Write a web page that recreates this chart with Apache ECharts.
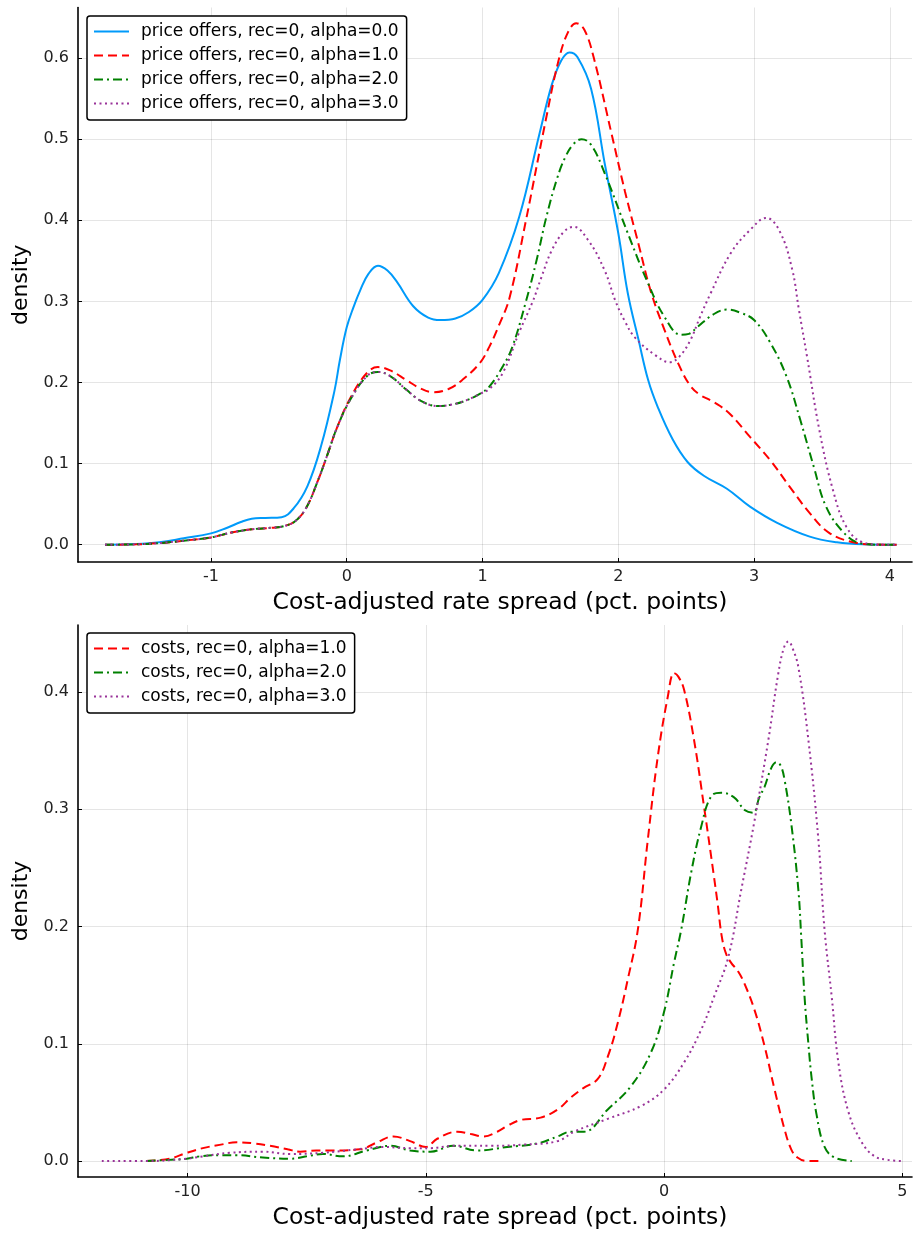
<!DOCTYPE html>
<html>
<head>
<meta charset="utf-8">
<script src="https://cdn.jsdelivr.net/npm/echarts@6/dist/echarts.min.js"></script>
<style>
  html, body { margin: 0; padding: 0; background: #ffffff; }
  #chart { width: 914px; height: 1234px; }
</style>
</head>
<body>
<div id="chart"></div>
<script>
// Kernel density estimates of cost-adjusted rate spreads, [spread, density] pairs.

// Upper panel: price offers, rec=0
const priceAlpha0 = [[-1.78,0],[-1.55,0.0008],[-1.38,0.003],[-1.2,0.008],[-1.0,0.014],[-0.88,0.021],[-0.78,0.028],[-0.7,0.032],[-0.6,0.033],[-0.48,0.034],[-0.39,0.045],[-0.29,0.072],[-0.19,0.121],[-0.09,0.19],[-0.05,0.228],[0.0,0.268],[0.05,0.293],[0.1,0.314],[0.16,0.334],[0.23,0.344],[0.3,0.338],[0.37,0.324],[0.49,0.294],[0.6,0.28],[0.69,0.277],[0.8,0.279],[0.9,0.287],[1.0,0.302],[1.12,0.335],[1.27,0.404],[1.42,0.507],[1.51,0.567],[1.58,0.597],[1.64,0.607],[1.7,0.601],[1.8,0.562],[1.9,0.47],[2.0,0.384],[2.07,0.31],[2.15,0.252],[2.22,0.203],[2.29,0.17],[2.4,0.13],[2.51,0.102],[2.63,0.085],[2.8,0.069],[2.97,0.047],[3.17,0.027],[3.41,0.01],[3.61,0.003],[3.8,0.0005],[4.05,0]];

const priceAlpha1 = [[-1.78,0],[-1.55,0.0005],[-1.38,0.002],[-1.2,0.005],[-1.0,0.009],[-0.85,0.015],[-0.7,0.019],[-0.55,0.021],[-0.46,0.023],[-0.38,0.029],[-0.3,0.045],[-0.21,0.08],[-0.14,0.112],[-0.07,0.145],[0.03,0.182],[0.15,0.212],[0.23,0.219],[0.32,0.215],[0.44,0.203],[0.54,0.193],[0.64,0.188],[0.75,0.192],[0.85,0.203],[0.98,0.224],[1.05,0.244],[1.12,0.27],[1.2,0.305],[1.32,0.4],[1.47,0.527],[1.56,0.597],[1.63,0.632],[1.69,0.643],[1.75,0.635],[1.82,0.6],[1.95,0.507],[2.05,0.435],[2.15,0.37],[2.24,0.312],[2.34,0.265],[2.44,0.224],[2.53,0.196],[2.6,0.185],[2.68,0.178],[2.75,0.171],[2.83,0.16],[2.97,0.133],[3.12,0.104],[3.26,0.072],[3.41,0.039],[3.55,0.015],[3.73,0.003],[3.9,0.0003],[4.05,0]];

const priceAlpha2 = [[-1.78,0],[-1.55,0.0005],[-1.38,0.002],[-1.2,0.005],[-1.0,0.009],[-0.85,0.015],[-0.7,0.019],[-0.55,0.021],[-0.46,0.023],[-0.38,0.029],[-0.3,0.045],[-0.21,0.08],[-0.14,0.112],[-0.07,0.145],[0.03,0.18],[0.15,0.208],[0.23,0.213],[0.32,0.208],[0.44,0.191],[0.55,0.177],[0.67,0.171],[0.78,0.173],[0.88,0.178],[0.98,0.186],[1.05,0.195],[1.15,0.22],[1.22,0.244],[1.32,0.3],[1.4,0.352],[1.47,0.404],[1.55,0.452],[1.61,0.478],[1.67,0.494],[1.73,0.5],[1.8,0.493],[1.9,0.458],[2.07,0.384],[2.22,0.322],[2.34,0.281],[2.46,0.259],[2.52,0.26],[2.58,0.268],[2.7,0.284],[2.8,0.29],[2.9,0.286],[3.0,0.277],[3.12,0.249],[3.24,0.207],[3.34,0.154],[3.44,0.096],[3.53,0.047],[3.66,0.015],[3.78,0.002],[3.95,0],[4.05,0]];

const priceAlpha3 = [[-1.78,0],[-1.55,0.0005],[-1.38,0.002],[-1.2,0.005],[-1.0,0.009],[-0.85,0.015],[-0.7,0.019],[-0.55,0.021],[-0.46,0.023],[-0.38,0.029],[-0.3,0.045],[-0.21,0.08],[-0.14,0.112],[-0.07,0.145],[0.03,0.18],[0.15,0.208],[0.23,0.213],[0.32,0.208],[0.44,0.191],[0.55,0.177],[0.67,0.171],[0.78,0.173],[0.88,0.178],[0.98,0.186],[1.05,0.192],[1.15,0.212],[1.27,0.262],[1.37,0.3],[1.43,0.328],[1.51,0.363],[1.6,0.386],[1.67,0.392],[1.78,0.375],[1.9,0.338],[1.98,0.3],[2.05,0.275],[2.12,0.256],[2.27,0.234],[2.38,0.225],[2.45,0.232],[2.53,0.252],[2.6,0.28],[2.68,0.31],[2.83,0.36],[2.97,0.388],[3.09,0.403],[3.19,0.386],[3.28,0.34],[3.33,0.29],[3.39,0.232],[3.48,0.142],[3.58,0.068],[3.68,0.022],[3.8,0.003],[3.95,0],[4.05,0]];

// Lower panel: costs, rec=0
const costAlpha1 = [[-10.86,0],[-10.38,0.002],[-10.02,0.007],[-9.68,0.011],[-9.3,0.014],[-8.97,0.016],[-8.6,0.015],[-8.27,0.013],[-7.9,0.01],[-7.64,0.008],[-7.3,0.009],[-6.95,0.009],[-6.38,0.01],[-6.02,0.016],[-5.68,0.021],[-5.33,0.017],[-5.0,0.012],[-4.76,0.019],[-4.34,0.025],[-4.05,0.023],[-3.79,0.021],[-3.5,0.025],[-3.29,0.03],[-3.01,0.035],[-2.59,0.037],[-2.23,0.044],[-1.96,0.054],[-1.7,0.062],[-1.39,0.07],[-1.18,0.089],[-0.97,0.118],[-0.76,0.155],[-0.55,0.197],[-0.34,0.274],[-0.13,0.345],[0.08,0.396],[0.21,0.416],[0.3,0.413],[0.42,0.402],[0.63,0.359],[0.84,0.302],[1.04,0.245],[1.13,0.218],[1.21,0.192],[1.3,0.177],[1.41,0.169],[1.55,0.162],[1.68,0.152],[1.89,0.13],[2.11,0.098],[2.32,0.061],[2.53,0.027],[2.67,0.01],[2.8,0.003],[3.0,0],[3.24,0]];

const costAlpha2 = [[-10.86,0],[-10.4,0.001],[-10.02,0.002],[-9.75,0.004],[-9.3,0.005],[-8.97,0.005],[-8.42,0.003],[-7.85,0.002],[-7.5,0.004],[-7.16,0.006],[-6.74,0.004],[-6.24,0.009],[-5.75,0.013],[-5.33,0.009],[-4.9,0.008],[-4.42,0.013],[-3.92,0.009],[-3.29,0.012],[-2.66,0.015],[-2.23,0.021],[-1.96,0.025],[-1.68,0.025],[-1.18,0.044],[-0.69,0.064],[-0.27,0.093],[0.0,0.127],[0.21,0.169],[0.36,0.197],[0.57,0.246],[0.78,0.285],[0.99,0.311],[1.2,0.314],[1.47,0.31],[1.7,0.299],[1.87,0.297],[2.0,0.31],[2.11,0.319],[2.25,0.335],[2.36,0.34],[2.45,0.337],[2.53,0.325],[2.67,0.288],[2.82,0.231],[2.88,0.191],[2.95,0.14],[3.03,0.1],[3.1,0.07],[3.2,0.04],[3.37,0.012],[3.58,0.003],[3.94,0]];

const costAlpha3 = [[-11.8,0],[-10.86,0],[-10.02,0.002],[-9.68,0.004],[-9.12,0.007],[-8.42,0.008],[-7.85,0.006],[-7.16,0.007],[-6.44,0.01],[-5.89,0.012],[-5.33,0.011],[-4.9,0.011],[-4.42,0.013],[-3.64,0.013],[-2.95,0.014],[-2.23,0.017],[-1.89,0.025],[-1.18,0.036],[-0.48,0.047],[0.0,0.061],[0.42,0.084],[0.78,0.112],[1.05,0.14],[1.35,0.174],[1.62,0.231],[1.89,0.288],[2.19,0.359],[2.4,0.416],[2.52,0.438],[2.61,0.443],[2.7,0.437],[2.82,0.421],[3.03,0.359],[3.24,0.274],[3.37,0.197],[3.52,0.14],[3.66,0.084],[3.87,0.042],[4.15,0.016],[4.42,0.004],[4.7,0.001],[4.99,0]];

// Tick values for each axis
const priceXTicks = [-1, 0, 1, 2, 3, 4];
const priceYTicks = [0, 0.1, 0.2, 0.3, 0.4, 0.5, 0.6];
const costXTicks = [-10, -5, 0, 5];
const costYTicks = [0, 0.1, 0.2, 0.3, 0.4];

// Series names
const priceNames = [
  'price offers, rec=0, alpha=0.0',
  'price offers, rec=0, alpha=1.0',
  'price offers, rec=0, alpha=2.0',
  'price offers, rec=0, alpha=3.0'
];
const costNames = [
  'costs, rec=0, alpha=1.0',
  'costs, rec=0, alpha=2.0',
  'costs, rec=0, alpha=3.0'
];

const FONT = 'DejaVu Sans';
const AXIS_TITLE = 'Cost-adjusted rate spread (pct. points)';

const styles = {
  solid:   { color: '#009AFA', type: 'solid' },
  dash:    { color: '#FF0000', type: [9, 5] },
  dashdot: { color: '#008000', type: [9, 4, 2, 4] },
  dot:     { color: '#993399', type: [2, 3.5] }
};

function xAxis(gridIndex, min, max, ticks) {
  return {
    type: 'value', gridIndex, min, max,
    name: AXIS_TITLE, nameLocation: 'middle', nameGap: 29,
    nameTextStyle: { fontFamily: FONT, fontSize: 23.5, color: '#000', padding: [0, 0, 0, 10] },
    axisLine: { show: true, onZero: false, lineStyle: { color: '#000', width: 1.6 } },
    axisTick: { show: true, inside: true, length: 4, customValues: ticks, lineStyle: { color: '#000', width: 1 } },
    axisLabel: { show: true, margin: 7, customValues: ticks, fontFamily: FONT, fontSize: 16, color: '#222',
                 formatter: v => String(v) },
    splitLine: { show: true, lineStyle: { color: 'rgba(0,0,0,0.1)', width: 1 } }
  };
}

function yAxis(gridIndex, min, max, ticks) {
  return {
    type: 'value', gridIndex, min, max,
    name: 'density', nameLocation: 'middle', nameGap: 45, nameRotate: 90,
    nameTextStyle: { fontFamily: FONT, fontSize: 22, color: '#000' },
    axisLine: { show: true, onZero: false, lineStyle: { color: '#000', width: 1.6 } },
    axisTick: { show: true, inside: true, length: 4, customValues: ticks, lineStyle: { color: '#000', width: 1 } },
    axisLabel: { show: true, margin: 9, customValues: ticks, fontFamily: FONT, fontSize: 16, color: '#222',
                 formatter: v => v.toFixed(1) },
    splitLine: { show: true, lineStyle: { color: 'rgba(0,0,0,0.1)', width: 1 } }
  };
}

function line(name, data, style, axisIndex) {
  return {
    type: 'line', name, data,
    xAxisIndex: axisIndex, yAxisIndex: axisIndex,
    symbol: 'none', smooth: 0.4,
    lineStyle: { color: style.color, width: 2, type: style.type, cap: 'butt' },
    itemStyle: { color: style.color },
    emphasis: { disabled: true },
    animation: false
  };
}

function legend(names, top) {
  return {
    data: names, orient: 'vertical', left: 87, top,
    itemWidth: 35, itemHeight: 12, itemGap: 7,
    padding: [7, 8, 8, 6],
    backgroundColor: '#fff', borderColor: '#000', borderWidth: 1.5, borderRadius: 3,
    selectedMode: false,
    itemStyle: { opacity: 0 },
    textStyle: { fontFamily: FONT, fontSize: 17, color: '#000', padding: [0, 0, 0, 7] }
  };
}

const chart = echarts.init(document.getElementById('chart'), null, { renderer: 'canvas' });
chart.setOption({
  backgroundColor: '#fff',
  animation: false,
  grid: [
    { left: 78, right: 2, top: 7.5, height: 554.5 },
    { left: 78, right: 2, top: 625, height: 552 }
  ],
  xAxis: [
    xAxis(0, -1.979, 4.163, priceXTicks),
    xAxis(1, -12.30, 5.205, costXTicks)
  ],
  yAxis: [
    yAxis(0, -0.0213, 0.6624, priceYTicks),
    yAxis(1, -0.0136, 0.457, costYTicks)
  ],
  legend: [legend(priceNames, 16), legend(costNames, 633)],
  series: [
    line(priceNames[0], priceAlpha0, styles.solid, 0),
    line(priceNames[1], priceAlpha1, styles.dash, 0),
    line(priceNames[2], priceAlpha2, styles.dashdot, 0),
    line(priceNames[3], priceAlpha3, styles.dot, 0),
    line(costNames[0], costAlpha1, styles.dash, 1),
    line(costNames[1], costAlpha2, styles.dashdot, 1),
    line(costNames[2], costAlpha3, styles.dot, 1)
  ]
});
</script>
</body>
</html>
